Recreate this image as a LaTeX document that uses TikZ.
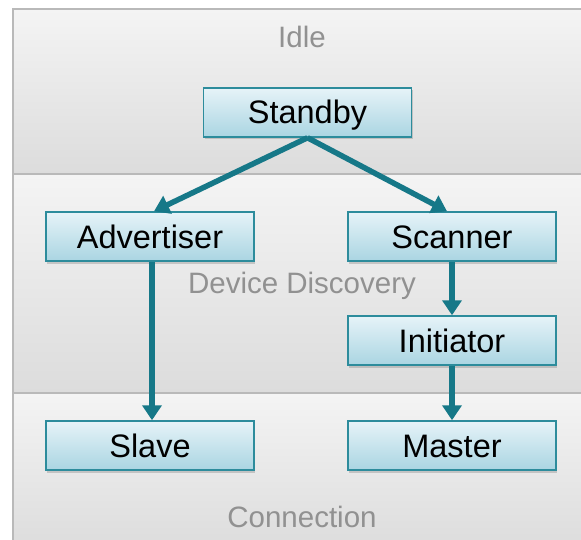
\documentclass[tikz,border=0pt]{standalone}
\usepackage{fontspec}
\setmainfont{Liberation Sans}
\usepackage{tikz}
\usepackage{xcolor}
\usetikzlibrary{arrows.meta,shadows}
\definecolor{tealline}{RGB}{22,120,136}
\definecolor{tealedge}{RGB}{45,140,156}
\definecolor{boxtop}{RGB}{230,243,248}
\definecolor{boxbottom}{RGB}{170,213,226}
\definecolor{bandtop}{RGB}{244,244,244}
\definecolor{bandbottom}{RGB}{220,220,220}
\definecolor{bandedge}{RGB}{185,185,185}
\definecolor{labelgray}{RGB}{145,145,145}
\tikzset{
    state-box/.style = {draw=tealedge, line width=1.5pt, top color=boxtop, bottom color=boxbottom, rectangle,
        minimum width=208pt, minimum height=49pt, inner sep=0pt, text height=23pt, text depth=0pt,
        font=\fontsize{32.5}{38}\selectfont,
        drop shadow={opacity=0.35, shadow xshift=1pt, shadow yshift=-2.5pt}},
    band-label/.style = {text=labelgray, font=\fontsize{29.5}{34}\selectfont},
    band/.style = {top color=bandtop, bottom color=bandbottom},
    flow/.style = {draw=tealline, line width=5.5pt, -{Triangle[length=15pt,width=19pt]}},
}

\begin{document}
\begin{tikzpicture}[x=1pt, y=-1pt]
\useasboundingbox (0,0) rectangle (581,540);
% bands
\shade[band] (13,9) rectangle (590,174);
\shade[band] (13,174) rectangle (590,393);
\shade[band] (13,393) rectangle (590,550);
\draw[bandedge, line width=2pt] (590,9) -- (13,9) -- (13,550);
\draw[bandedge, line width=2pt] (13,174) -- (590,174);
\draw[bandedge, line width=2pt] (13,393) -- (590,393);
\node[band-label] (idle) at (302,37) {Idle};
\node[band-label] (discovery) at (302,286) {Device Discovery};
\node[band-label] (connection) at (302,517) {Connection};
% states
\node[state-box] (standby) at (307.5,112.5) {Standby};
\node[state-box] (advertiser) at (150,236.5) {Advertiser};
\node[state-box] (scanner) at (452,236.5) {Scanner};
\node[state-box] (initiator) at (452,340.5) {Initiator};
\node[state-box] (slave) at (150,445.5) {Slave};
\node[state-box] (master) at (452,445.5) {Master};
% transitions
\draw[flow] (standby.south) -- ([xshift=4pt]advertiser.north);
\draw[flow] (standby.south) -- ([xshift=-5pt]scanner.north);
\draw[flow] ([xshift=2pt]advertiser.south) -- ([xshift=2pt]slave.north);
\draw[flow] (scanner.south) -- (initiator.north);
\draw[flow] (initiator.south) -- (master.north);
\end{tikzpicture}
\end{document}
